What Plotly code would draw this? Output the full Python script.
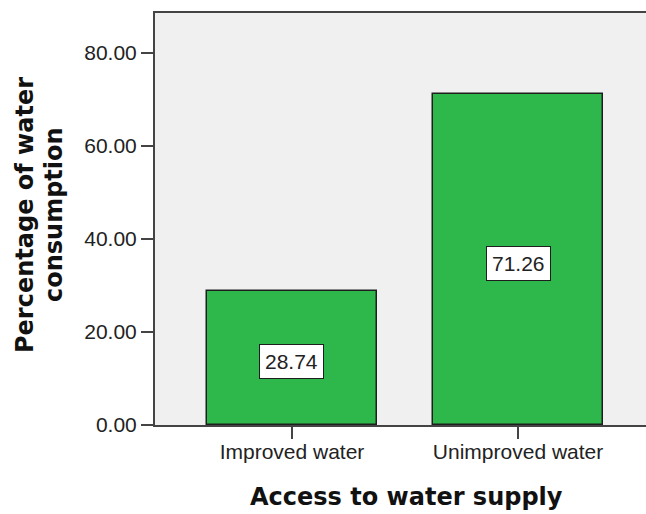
import plotly.graph_objects as go

# Categories and mean percentages
categories = ["Improved water", "Unimproved water"]
values = [28.74, 71.26]
y_ticks = [0, 20, 40, 60, 80]
y_tick_labels = ["0.00", "20.00", "40.00", "60.00", "80.00"]

BAR_GREEN = "#2EB84B"
AXIS_GRAY = "#444444"
TICK_FONT = dict(family="Liberation Sans, Arial, sans-serif", size=21, color="#222222")
TITLE_FONT = dict(family="DejaVu Sans, Verdana, sans-serif", size=24, color="#111111")

x_pos = list(range(len(categories)))

fig = go.Figure()
fig.add_trace(go.Bar(
    x=x_pos,
    y=values,
    width=0.752,
    marker=dict(color=BAR_GREEN, line=dict(color="#1e1e1e", width=1.5)),
    hoverinfo="skip",
))

# Boxed value labels centred in each bar
for xi, v in zip(x_pos, values):
    fig.add_annotation(
        x=xi, y=v / 2 - 0.8, xref="x", yref="y",
        text=f"{v:.2f}", showarrow=False,
        font=TICK_FONT, bgcolor="white",
        bordercolor="#1e1e1e", borderwidth=1, borderpad=5,
    )

# Axis titles
fig.add_annotation(
    x=(406 - 155) / 491, y=-(497 - 425) / 412, xref="paper", yref="paper",
    text="<b>Access to water supply</b>", showarrow=False,
    font=TITLE_FONT, xanchor="center", yanchor="middle",
)
fig.add_annotation(
    x=(25 - 155) / 491, y=(425 - 215) / 412, xref="paper", yref="paper",
    text="<b>Percentage of water</b>", showarrow=False, textangle=-90,
    font=TITLE_FONT, xanchor="center", yanchor="middle",
)
fig.add_annotation(
    x=(54 - 155) / 491, y=(425 - 215) / 412, xref="paper", yref="paper",
    text="<b>consumption</b>", showarrow=False, textangle=-90,
    font=TITLE_FONT, xanchor="center", yanchor="middle",
)

fig.update_layout(
    width=646, height=514,
    margin=dict(l=155, r=0, t=13, b=89),
    paper_bgcolor="white",
    plot_bgcolor="#F0F0F0",
    showlegend=False,
    bargap=0,
)
fig.update_xaxes(
    range=[-0.606, 1.566],
    tickvals=x_pos, ticktext=categories,
    ticks="outside", ticklen=12, tickwidth=2, tickcolor=AXIS_GRAY,
    ticklabelstandoff=-5,
    showline=True, linecolor=AXIS_GRAY, linewidth=2, mirror=True,
    showgrid=False, zeroline=False,
    tickfont=TICK_FONT,
)
fig.update_yaxes(
    range=[0, 88.6],
    tickvals=y_ticks, ticktext=y_tick_labels,
    ticks="outside", ticklen=12, tickwidth=2, tickcolor=AXIS_GRAY,
    showline=True, linecolor=AXIS_GRAY, linewidth=2,
    showgrid=False, zeroline=False,
    tickfont=TICK_FONT,
)

fig.write_html("out.html")
